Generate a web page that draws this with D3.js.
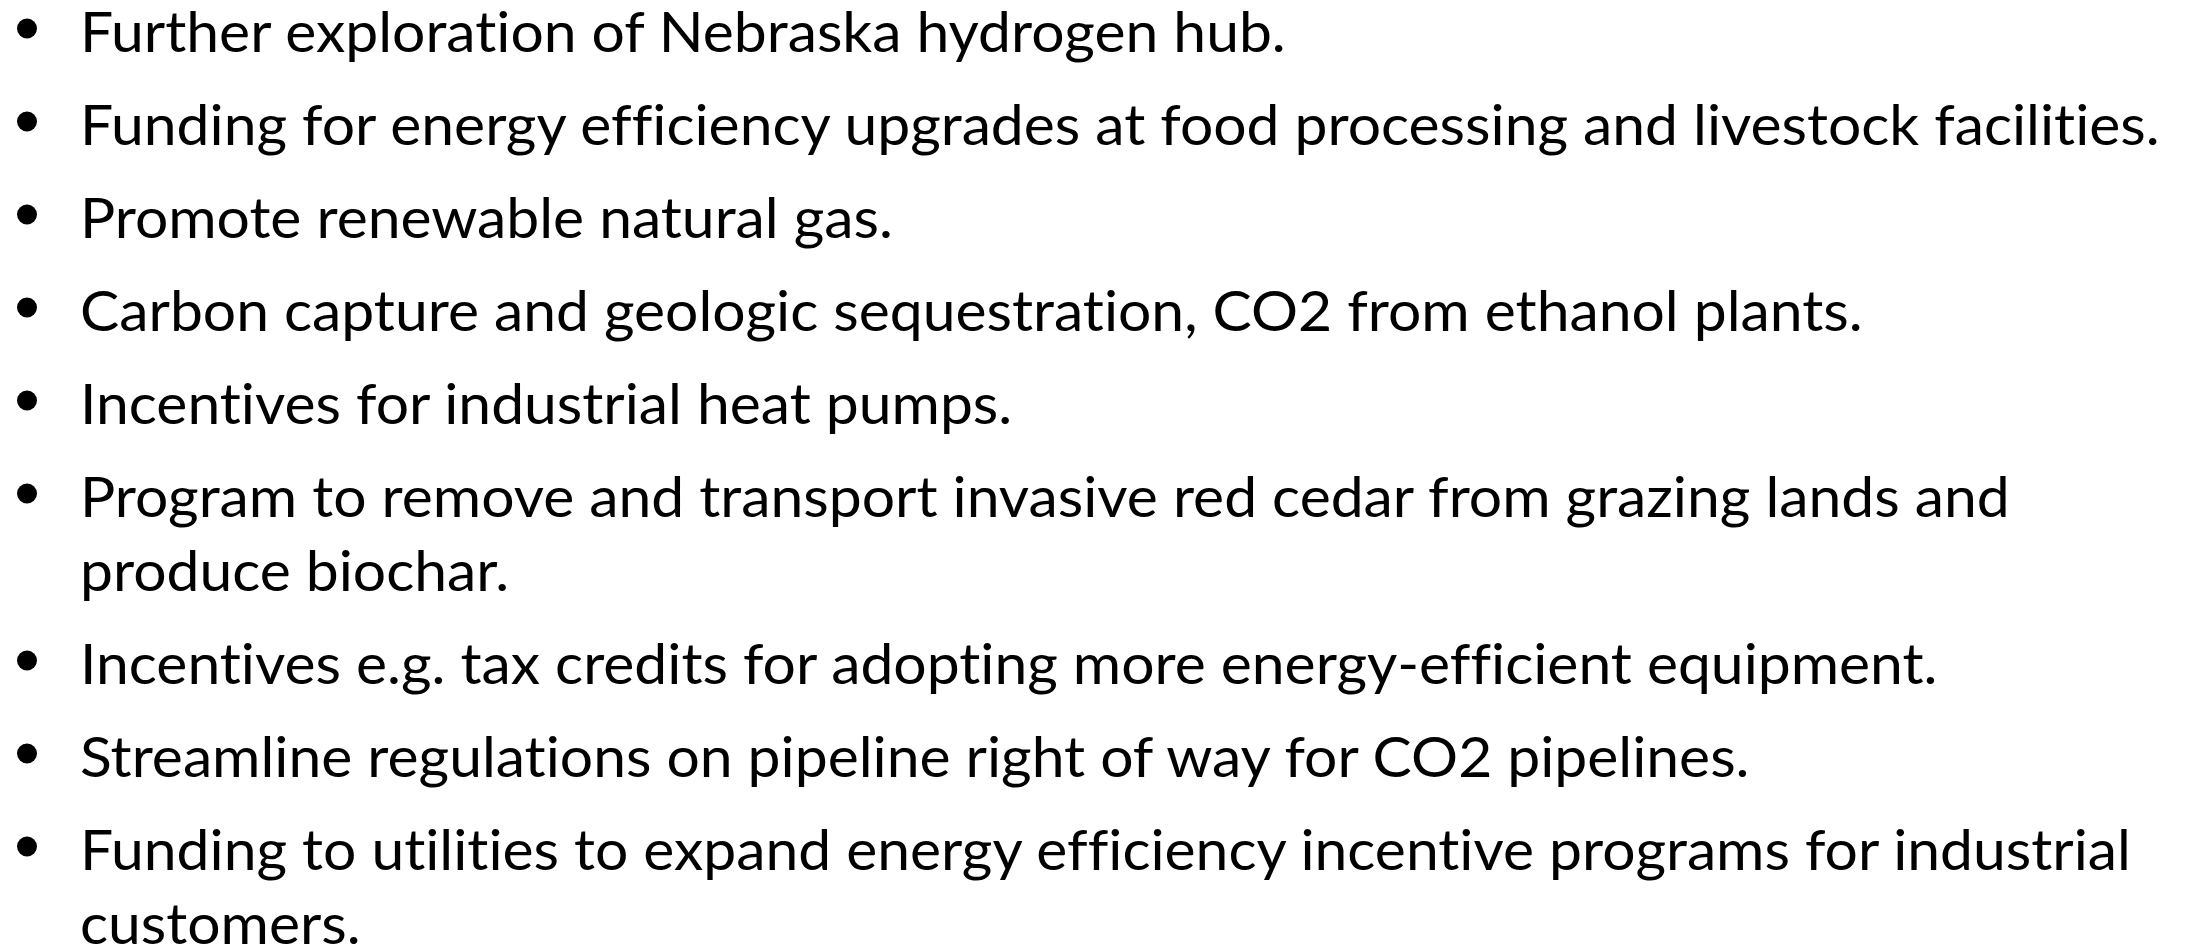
<!DOCTYPE html>
<html>
<head>
<meta charset="utf-8">
<script src="https://cdn.jsdelivr.net/npm/d3@7"></script>
<style>
  html, body { margin: 0; padding: 0; background: #fff; }
  svg { display: block; }
  text { font-variant-ligatures: none; font-feature-settings: "liga" 0, "clig" 0; }
</style>
</head>
<body>
<svg id="listSVG"></svg>
<script>
var width = 2191
var height = 951

// each bullet item, already split where the slide wraps it
var bulletItems = [
    ['Further exploration of Nebraska hydrogen hub.'],
    ['Funding for energy efficiency upgrades at food processing and livestock facilities.'],
    ['Promote renewable natural gas.'],
    ['Carbon capture and geologic sequestration, CO2 from ethanol plants.'],
    ['Incentives for industrial heat pumps.'],
    ['Program to remove and transport invasive red cedar from grazing lands and', 'produce biochar.'],
    ['Incentives e.g. tax credits for adopting more energy-efficient equipment.'],
    ['Streamline regulations on pipeline right of way for CO2 pipelines.'],
    ['Funding to utilities to expand energy efficiency incentive programs for industrial', 'customers.']
]

var textX = 80
var bulletX = 27
var firstBaseline = 52
var lineStep = 74
var itemGap = 19
var fontSize = 56
var longestLineWidth = 2080

// flatten to rows
var rows = []
bulletItems.forEach(function (lines, i) {
    lines.forEach(function (t, j) {
        rows.push({ item: i, line: j, text: t })
    })
})

var yScaleRows = d3.scaleLinear().domain([0, 1]).range([firstBaseline, firstBaseline + lineStep])
var gapScale = d3.scaleLinear().domain([0, 1]).range([0, itemGap])

function rowY(d, r) {
    return yScaleRows(r) + gapScale(d.item)
}

var svg = d3.select('#listSVG')
    .attr('width', width)
    .attr('height', height)

svg.append('rect')
    .attr('width', width)
    .attr('height', height)
    .attr('fill', '#fff')

var textLayer = svg.append('g')

textLayer.selectAll('text')
    .data(rows)
    .enter()
    .append('text')
    .attr('x', 0)
    .attr('y', function (d, r) { return rowY(d, r) })
    .attr('font-family', 'Lato, "Open Sans", sans-serif')
    .attr('font-size', fontSize + 'px')
    .attr('fill', '#000')
    .text(function (d) { return d.text })

// squeeze horizontally so the longest line matches the slide's width (Calibri is narrow)
var maxW = d3.max(textLayer.selectAll('text').nodes(), function (n) { return n.getComputedTextLength() })
var sx = longestLineWidth / maxW
textLayer.attr('transform', 'translate(' + textX + ', 0) scale(' + sx + ', 1)')

svg.append('g').selectAll('circle')
    .data(rows.filter(function (d) { return d.line === 0 }))
    .enter()
    .append('circle')
    .attr('cx', bulletX)
    .attr('cy', function (d) { return rowY(d, rows.indexOf(d)) - 23.5 })
    .attr('r', 10)
    .attr('fill', '#000')
</script>
</body>
</html>
